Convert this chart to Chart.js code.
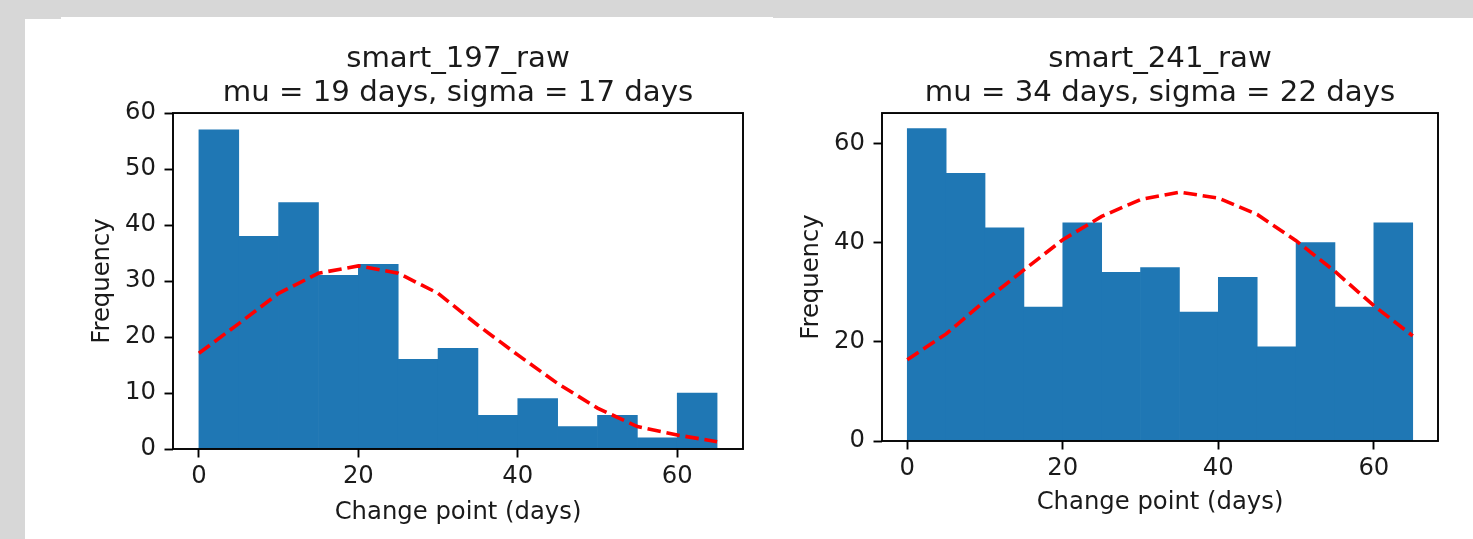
<!DOCTYPE html>
<html>
<head>
<meta charset="utf-8">
<script src="https://cdn.jsdelivr.net/npm/chart.js@4.4.0/dist/chart.umd.min.js"></script>
<style>
  html, body { margin: 0; padding: 0; }
  body { width: 1473px; height: 539px; background: #d7d7d7; position: relative; overflow: hidden; }
  .panel { position: absolute; background: #fff; }
  .box { position: absolute; }
</style>
</head>
<body>
<div class="panel" style="left:61px;top:17px;width:712px;height:3px"></div>
<div class="panel" style="left:25px;top:19px;width:748px;height:520px"></div>
<div class="panel" style="left:773px;top:18px;width:700px;height:521px"></div>
<div class="box" style="left:25px;top:18px;width:748px;height:521px"><canvas id="left"></canvas></div>
<div class="box" style="left:773px;top:18px;width:700px;height:521px"><canvas id="right"></canvas></div>
<script>
// histogram bins (days) and counts
const binEdges = [0, 5, 10, 15, 20, 25, 30, 35, 40, 45, 50, 55, 60, 65];
const leftCounts = [57, 38, 44, 31, 33, 16, 18, 6, 9, 4, 6, 2, 10];
const leftFit = [17.1, 22.4, 27.8, 31.4, 32.7, 31.4, 27.8, 22.1, 16.8, 11.7, 7.3, 4.0, 2.5, 1.3];
const rightCounts = [63, 54, 43, 27, 44, 34, 35, 26, 33, 19, 40, 27, 44];
const rightFit = [16.4, 21.6, 28.3, 34.5, 40.6, 45.3, 48.7, 50.2, 49.0, 45.7, 40.4, 34.2, 27.3, 21.2];
const xTicks = [0, 20, 40, 60];
const leftYTicks = [0, 10, 20, 30, 40, 50, 60];
const rightYTicks = [0, 20, 40, 60];

const FONT = "'DejaVu Sans', sans-serif";
const INK = '#1a1a1a';

const frame = {
    id: 'frame',
    afterDatasetsDraw(chart) {
        const { ctx, chartArea: a } = chart;
        ctx.save();
        ctx.strokeStyle = '#000';
        ctx.lineWidth = 1.9;
        ctx.strokeRect(a.left, a.top, a.right - a.left, a.bottom - a.top);
        ctx.restore();
    }
};

function makeChart(id, o) {
    let ctx = document.getElementById(id).getContext('2d');
    return new Chart(ctx, {
        type: 'bar',
        data: {
            datasets: [
                {
                    type: 'line',
                    order: 0,
                    data: binEdges.map((x, i) => ({ x: x, y: o.fit[i] })),
                    borderColor: '#ff0000',
                    borderWidth: 3.6,
                    borderDash: [13.5, 5.8],
                    pointRadius: 0,
                    fill: false,
                    tension: 0
                },
                {
                    type: 'bar',
                    order: 1,
                    data: o.counts.map((c, i) => ({ x: (binEdges[i] + binEdges[i + 1]) / 2, y: c })),
                    backgroundColor: '#1f77b4',
                    borderWidth: 0,
                    barPercentage: 1,
                    categoryPercentage: 1
                }
            ]
        },
        options: {
            responsive: true,
            maintainAspectRatio: false,
            animation: false,
            layout: { padding: { left: 0, right: o.padRight, top: 0, bottom: 0 } },
            plugins: {
                legend: { display: false },
                tooltip: { enabled: false },
                title: {
                    display: true,
                    fullSize: false,
                    text: o.title,
                    color: INK,
                    font: { family: FONT, size: 29.2, lineHeight: 1.17, weight: 'normal' },
                    padding: { top: 24, bottom: 2.7 }
                }
            },
            scales: {
                x: {
                    type: 'linear',
                    min: -3.25,
                    max: 68.25,
                    offset: false,
                    grid: { offset: false, drawOnChartArea: false, drawTicks: true, tickLength: 8.5, tickWidth: 1.9, tickColor: '#000' },
                    border: { display: false },
                    ticks: { color: INK, font: { family: FONT, size: 24.3 }, padding: 5, maxRotation: 0, autoSkip: false },
                    afterBuildTicks: s => { s.ticks = xTicks.map(v => ({ value: v })); },
                    afterFit: s => { s.height = o.xHeight; },
                    title: {
                        display: true,
                        text: 'Change point (days)',
                        color: INK,
                        font: { family: FONT, size: 24.3, lineHeight: 1.2 },
                        padding: { top: 0, bottom: o.xTitlePad }
                    }
                },
                y: {
                    min: 0,
                    max: o.yMax,
                    grid: { drawOnChartArea: false, drawTicks: true, tickLength: 8.5, tickWidth: 1.9, tickColor: '#000' },
                    border: { display: false },
                    ticks: { color: INK, font: { family: FONT, size: 24.3 }, padding: 8.5 },
                    afterBuildTicks: s => { s.ticks = o.yTicks.map(v => ({ value: v })); },
                    afterFit: s => { s.width = o.yWidth; },
                    title: {
                        display: true,
                        text: 'Frequency',
                        color: INK,
                        font: { family: FONT, size: 24.3, lineHeight: 1.2 },
                        padding: { top: o.yTitlePad, bottom: 0 }
                    }
                }
            }
        },
        plugins: [frame]
    });
}

makeChart('left', {
    title: ['smart_197_raw', 'mu = 19 days, sigma = 17 days'],
    counts: leftCounts,
    fit: leftFit,
    yTicks: leftYTicks,
    yMax: 60,
    padRight: 30,
    yWidth: 148,
    xHeight: 90,
    xTitlePad: 11.4,
    yTitlePad: 63
});

makeChart('right', {
    title: ['smart_241_raw', 'mu = 34 days, sigma = 22 days'],
    counts: rightCounts,
    fit: rightFit,
    yTicks: rightYTicks,
    yMax: 66.15,
    padRight: 35,
    yWidth: 109,
    xHeight: 98,
    xTitlePad: 22,
    yTitlePad: 24
});
</script>
</body>
</html>
